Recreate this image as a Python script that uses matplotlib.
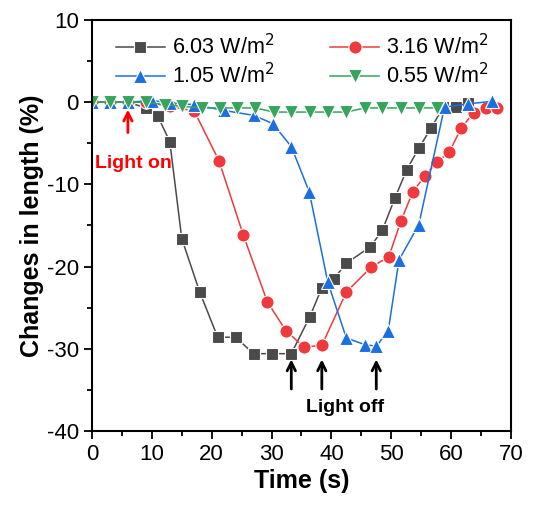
import matplotlib
matplotlib.use("Agg")
import matplotlib.pyplot as plt
from matplotlib.ticker import MultipleLocator

plt.rcParams['font.family'] = ['Liberation Sans', 'DejaVu Sans']
plt.rcParams['axes.unicode_minus'] = False

# 6.03 W/m2
black_t = [0, 3, 6, 9, 11, 13, 15, 18, 21, 24, 27, 30, 33.3, 36.4, 38.4, 40.4, 42.5,
           46.5, 48.5, 50.6, 52.6, 54.6, 56.7, 58.7, 60.8, 62.8]
black_v = [0, 0, 0, -0.7, -1.7, -4.8, -16.6, -23.1, -28.6, -28.6, -30.6, -30.6, -30.6,
           -26.1, -22.6, -21.5, -19.6, -17.6, -15.6, -11.7, -8.2, -5.6, -3.1, -0.6, -0.6, -0.1]
# 3.16 W/m2
red_t = [0, 3, 6, 9, 13, 17.1, 21.2, 25.3, 29.3, 32.4, 35.4, 38.4, 42.5, 46.6, 49.6,
         51.6, 53.6, 55.6, 57.6, 59.7, 61.7, 63.8, 65.8, 67.7]
red_v = [0, 0, 0, 0, -0.5, -1.1, -7.1, -16.2, -24.3, -27.8, -29.8, -29.6, -23.1, -20.1,
         -18.8, -14.5, -10.9, -9.0, -7.3, -6.1, -3.1, -1.3, -0.7, -0.7]
# 1.05 W/m2
blue_t = [0, 3, 6, 10.1, 13, 17.1, 22, 27, 30.2, 33.3, 36.3, 39.4, 42.5, 45.6, 47.5,
          49.5, 51.3, 54.6, 58.9, 62.8, 66.9]
blue_v = [0, 0, 0, 0.2, -0.1, -0.3, -1.0, -1.6, -2.6, -5.4, -10.9, -21.9, -28.7, -29.5,
          -29.7, -27.8, -19.2, -14.9, -0.6, -0.2, 0.1]
# 0.55 W/m2
green_t = [0, 3, 6, 9, 12.2, 15.1, 18.3, 21.4, 24.3, 27.3, 30.4, 33.3, 36.4, 39.4,
           42.5, 45.6, 48.5, 51.6, 54.6, 57.6]
green_v = [0, 0, 0, 0, -0.3, -0.5, -0.7, -0.7, -0.7, -0.7, -1.2, -1.2, -1.2, -1.2,
           -1.2, -0.7, -0.7, -0.7, -0.7, -0.7]

labels = ['6.03 W/m$^2$', '3.16 W/m$^2$', '1.05 W/m$^2$', '0.55 W/m$^2$']
light_on = 6
light_off = [33.3, 38.4, 47.5]

fig = plt.figure(figsize=(5.33, 5.13), dpi=100)
ax = fig.add_axes([0.1726, 0.16, 0.786, 0.801])

series = [
    (black_t, black_v, '#4a4a4a', 's', 8.5),
    (red_t, red_v, '#ee3a3c', 'o', 9.5),
    (blue_t, blue_v, '#1c6fe0', '^', 10),
    (green_t, green_v, '#35a45c', 'v', 10),
]
handles = []
for (t, v, c, m, ms), lab in zip(series, labels):
    h, = ax.plot(t, v, color=c, marker=m, markersize=ms, lw=1.1,
                 markeredgecolor='white', markeredgewidth=0.8, label=lab)
    handles.append(h)

ax.set_xlim(0, 70)
ax.set_ylim(-40, 10)
ax.xaxis.set_major_locator(MultipleLocator(10))
ax.xaxis.set_minor_locator(MultipleLocator(5))
ax.yaxis.set_major_locator(MultipleLocator(10))
ax.yaxis.set_minor_locator(MultipleLocator(5))
ax.tick_params(which='major', direction='out', length=6, width=1.3, labelsize=16)
ax.tick_params(which='minor', direction='out', length=3.5, width=1.3)
for s in ax.spines.values():
    s.set_linewidth(1.5)

ax.set_xlabel('Time (s)', fontsize=18, fontweight='bold', labelpad=3)
ax.set_ylabel('Changes in length (%)', fontsize=18, fontweight='bold', labelpad=2)

# arrows
ax.annotate('', xy=(light_on, -0.9), xytext=(light_on, -3.7),
            arrowprops=dict(arrowstyle='->', color='red', lw=2, mutation_scale=15,
                            shrinkA=0, shrinkB=0))
ax.text(7, -7.4, 'Light on', color='red', fontsize=14, fontweight='bold',
        ha='center', va='center')
for t in light_off:
    ax.annotate('', xy=(t, -31.3), xytext=(t, -34.9),
                arrowprops=dict(arrowstyle='->', color='black', lw=2, mutation_scale=15,
                                shrinkA=0, shrinkB=0))
ax.text(42.3, -37.2, 'Light off', color='black', fontsize=14, fontweight='bold',
        ha='center', va='center')

order = [0, 2, 1, 3]
ax.legend([handles[i] for i in order], [labels[i] for i in order],
          loc='upper left', bbox_to_anchor=(0.01, 1.012), ncol=2, frameon=False,
          fontsize=15.5, handlelength=2.3, columnspacing=2.6, labelspacing=0.15,
          handletextpad=0.3)

fig.savefig('out.png', dpi=100)
